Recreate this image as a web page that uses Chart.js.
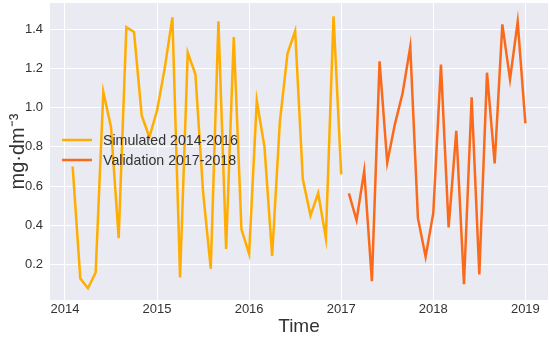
<!DOCTYPE html>
<html>
<head>
<meta charset="utf-8">
<script src="https://cdn.jsdelivr.net/npm/chart.js@4/dist/chart.umd.min.js"></script>
<style>
html,body{margin:0;padding:0;background:#fff;}
#wrap{width:550px;height:337px;position:relative;}
</style>
</head>
<body>
<div id="wrap"><canvas id="c" width="550" height="337"></canvas></div>
<script>
// Months (YYYY-MM)
const simMonths = ["2014-02","2014-03","2014-04","2014-05","2014-06","2014-07","2014-08","2014-09","2014-10","2014-11","2014-12","2015-01",
  "2015-02","2015-03","2015-04","2015-05","2015-06","2015-07","2015-08","2015-09","2015-10","2015-11","2015-12","2016-01",
  "2016-02","2016-03","2016-04","2016-05","2016-06","2016-07","2016-08","2016-09","2016-10","2016-11","2016-12","2017-01"];
const simValues = [0.70,0.13,0.08,0.16,1.08,0.90,0.335,1.41,1.385,0.96,0.85,0.985,
  1.20,1.46,0.135,1.28,1.17,0.57,0.18,1.44,0.28,1.36,0.38,0.255,
  1.035,0.80,0.245,0.925,1.275,1.39,0.635,0.45,0.565,0.335,1.465,0.66];
const valMonths = ["2017-02","2017-03","2017-04","2017-05","2017-06","2017-07","2017-08","2017-09","2017-10","2017-11","2017-12","2018-01",
  "2018-02","2018-03","2018-04","2018-05","2018-06","2018-07","2018-08","2018-09","2018-10","2018-11","2018-12","2019-01"];
const valValues = [0.563,0.426,0.677,0.116,1.236,0.72,0.916,1.073,1.31,0.437,0.24,0.463,
  1.219,0.39,0.882,0.10,1.053,0.15,1.178,0.716,1.424,1.144,1.437,0.92];
const yearLabels = ["2014","2015","2016","2017","2018","2019"];
const yTickValues = [0.2,0.4,0.6,0.8,1.0,1.2,1.4];
const seriesLabels = ["Simulated 2014-2016","Validation 2017-2018"];
const seriesColors = ["#FFAD00","#FA6A1C"];

function monthIndex(s){ const [y,m]=s.split("-").map(Number); return (y-2014)*12 + (m-1); }
function toPoints(months, vals){ return months.map((m,i)=>({x:monthIndex(m), y:vals[i]})); }
const yearTicks = yearLabels.map(y => (Number(y)-2014)*12);

const FONT = "'Liberation Sans', Arial, sans-serif";
const TXT = "#333333";

const legendPlugin = {
  id:'customLegend',
  afterDatasetsDraw(chart){
    const ctx = chart.ctx;
    const x0 = chart.chartArea.left + 12;
    const ys = [140,160];
    ctx.save();
    chart.data.datasets.forEach((ds,i)=>{
      ctx.strokeStyle = ds.borderColor;
      ctx.lineWidth = 2.5;
      ctx.beginPath();
      ctx.moveTo(x0, ys[i]); ctx.lineTo(x0+30, ys[i]); ctx.stroke();
      ctx.fillStyle = TXT;
      ctx.font = "14.2px " + FONT;
      ctx.textBaseline = "middle";
      ctx.textAlign = "left";
      ctx.fillText(ds.label, x0+41, ys[i]+1);
    });
    ctx.restore();
  }
};
const bgPlugin = {
  id:'plotBg',
  beforeDraw(chart){
    const a = chart.chartArea, ctx = chart.ctx;
    ctx.save(); ctx.fillStyle = "#EAEAF2";
    ctx.fillRect(a.left, a.top, a.right-a.left, a.bottom-a.top);
    ctx.restore();
  }
};

new Chart(document.getElementById('c'), {
  type:'line',
  data:{
    datasets:[
      {label:seriesLabels[0], data:toPoints(simMonths, simValues), borderColor:seriesColors[0], backgroundColor:seriesColors[0], borderWidth:2.5, pointRadius:0, tension:0, fill:false},
      {label:seriesLabels[1], data:toPoints(valMonths, valValues), borderColor:seriesColors[1], backgroundColor:seriesColors[1], borderWidth:2.5, pointRadius:0, tension:0, fill:false}
    ]
  },
  options:{
    responsive:false,
    animation:false,
    layout:{padding:{top:3,right:2,left:0,bottom:0}},
    plugins:{legend:{display:false}, tooltip:{enabled:false}},
    scales:{
      x:{
        type:'linear',
        min:-1.95, max:62.95,
        afterBuildTicks(s){ s.ticks = yearTicks.map(v=>({value:v})); },
        afterFit(s){ s.height = 37; s.paddingLeft = 0; s.paddingRight = 0; },
        grid:{color:'#FFFFFF', lineWidth:1, drawTicks:false},
        border:{display:false},
        ticks:{padding:2, color:TXT, font:{family:FONT, size:13},
          callback:(v)=>{ const i = yearTicks.indexOf(v); return i>=0 ? yearLabels[i] : ''; }},
        title:{display:true, text:'Time', color:TXT, font:{family:FONT, size:19, lineHeight:1.0}, padding:{top:0,bottom:1}}
      },
      y:{
        min:0.02, max:1.533,
        afterBuildTicks(s){ s.ticks = yTickValues.map(v=>({value:v})); },
        afterFit(s){ s.width = 50; s.paddingTop = 0; s.paddingBottom = 0; },
        grid:{color:'#FFFFFF', lineWidth:1, drawTicks:false},
        border:{display:false},
        ticks:{padding:7, color:TXT, font:{family:FONT, size:13},
          callback:(v)=>v.toFixed(1)},
        title:{display:true, text:'mg·dm⁻³', color:TXT, font:{family:FONT, size:20}, padding:{top:6,bottom:0}}
      }
    }
  },
  plugins:[bgPlugin, legendPlugin]
});
</script>
</body>
</html>
